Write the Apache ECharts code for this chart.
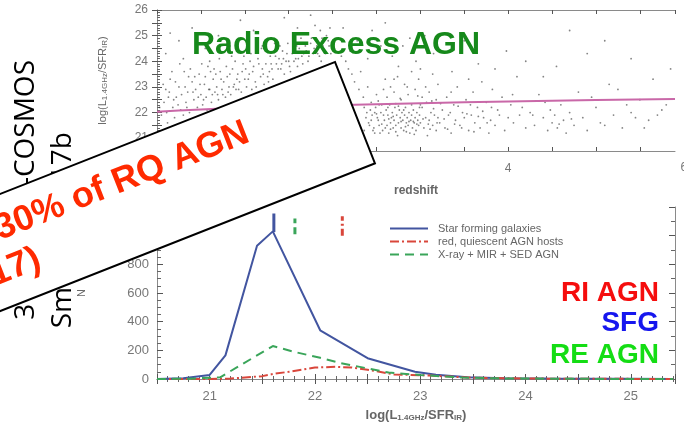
<!DOCTYPE html>
<html>
<head>
<meta charset="utf-8">
<script src="https://cdn.jsdelivr.net/npm/echarts@6/dist/echarts.min.js"></script>
<style>
  html, body { margin: 0; padding: 0; background: #fff; }
  #c { width: 684px; height: 423px; }
</style>
</head>
<body>
<div id="c"></div>
<script>
// ---------- upper panel: radio excess vs redshift ----------
// sources at z < 1
const scatterNear = [
  [0.05,21.9],[0.08,22.4],[0.1,22.9],[0.12,21.6],[0.15,23.3],[0.18,22.2],[0.2,21.8],[0.22,22.6],[0.25,23.0],[0.27,22.1],
  [0.3,21.9],[0.31,23.6],[0.33,22.4],[0.35,22.8],[0.37,22.0],[0.4,23.2],[0.42,22.5],[0.44,22.9],[0.46,22.2],[0.48,23.5],
  [0.5,22.7],[0.52,22.3],[0.54,23.1],[0.56,22.6],[0.58,23.8],[0.6,22.9],[0.62,22.4],[0.64,23.3],[0.66,22.8],[0.68,23.0],
  [0.7,22.5],[0.72,23.6],[0.74,22.9],[0.76,23.2],[0.78,22.6],[0.8,23.4],[0.82,23.0],[0.84,22.7],[0.86,23.7],[0.88,23.1],
  [0.9,22.9],[0.92,23.5],[0.94,23.2],[0.96,22.8],[0.98,23.9],[1.0,23.3],[0.1,24.3],[0.25,24.8],[0.4,25.3],[0.55,24.5],
  [0.7,25.0],[0.85,24.2],[0.95,25.6],[0.3,24.1],[0.6,24.0],[0.15,25.1],[0.2,21.2],[0.4,21.5],[0.6,21.4],[0.8,21.8],
  [0.5,21.0],[0.9,22.0],[0.7,21.6],[0.13,22.6],[0.36,23.4],[0.57,22.1],[0.77,22.2],[0.45,24.4],[0.65,23.7],[0.83,24.6],
  [0.03,22.2],[0.07,23.1],[0.11,22.0],[0.14,22.8],[0.17,23.6],[0.19,22.5],[0.21,23.2],[0.24,22.3],[0.26,23.9],[0.28,22.7],
  [0.32,23.0],[0.34,22.2],[0.38,23.7],[0.41,22.8],[0.43,23.4],[0.47,22.6],[0.49,23.1],[0.51,23.9],[0.53,22.5],[0.55,23.4],
  [0.59,22.9],[0.61,23.6],[0.63,22.7],[0.67,23.5],[0.69,22.7],[0.71,24.1],[0.73,23.3],[0.75,22.7],[0.79,23.8],[0.81,22.8],
  [0.83,23.5],[0.87,23.0],[0.89,24.0],[0.91,23.3],[0.93,22.9],[0.97,23.6],[0.99,24.2]
];
// sources at 1 < z < 2
const scatterMid = [
  [1.02,23.0],[1.05,23.5],[1.08,22.9],[1.1,23.8],[1.12,23.2],[1.15,24.1],[1.18,23.4],[1.2,23.7],[1.22,23.1],[1.25,24.4],
  [1.28,23.6],[1.3,23.9],[1.32,23.3],[1.35,24.2],[1.38,23.7],[1.4,24.6],[1.42,23.9],[1.45,23.5],[1.48,24.3],[1.5,24.0],
  [1.52,23.6],[1.55,24.8],[1.58,24.1],[1.6,23.8],[1.62,24.5],[1.65,24.2],[1.68,25.1],[1.7,24.4],[1.72,24.0],[1.75,24.7],
  [1.78,24.3],[1.8,25.4],[1.82,24.6],[1.85,24.2],[1.88,24.9],[1.9,24.4],[1.93,25.0],[1.96,24.6],[1.98,24.3],[1.1,25.2],
  [1.3,24.9],[1.45,25.7],[1.6,25.3],[1.75,25.8],[1.2,24.6],[1.2,22.0],[1.4,21.7],[1.5,22.3],[1.6,21.9],[1.8,22.1],
  [1.3,21.5],[1.7,22.6],[1.9,21.8],[1.1,21.9],[1.5,22.8],[1.06,24.0],[1.27,23.2],[1.44,24.1],[1.66,23.9],[1.87,24.0],
  [1.01,23.7],[1.04,23.3],[1.07,24.3],[1.09,23.6],[1.13,23.0],[1.16,23.9],[1.19,24.5],[1.21,23.5],[1.24,23.9],[1.26,23.4],
  [1.29,24.2],[1.31,23.7],[1.34,24.7],[1.36,23.9],[1.39,24.1],[1.41,23.7],[1.43,24.4],[1.47,24.0],[1.49,24.7],[1.51,23.8],
  [1.54,24.3],[1.56,24.0],[1.59,24.6],[1.61,24.1],[1.64,24.9],[1.67,24.3],[1.69,24.6],[1.73,24.2],[1.76,24.9],[1.79,24.5],
  [1.83,24.3],[1.86,25.2],[1.89,24.6],[1.92,24.3],[1.95,24.8],[1.97,25.3]
];
// sources at 2 < z < 3.2
const scatterPeak = [
  [2.02,24.5],[2.05,24.9],[2.1,24.2],[2.12,25.3],[2.15,24.0],[2.18,23.7],[2.2,24.4],[2.22,23.5],[2.25,23.2],[2.28,24.8],
  [2.3,22.9],[2.32,23.6],[2.35,22.6],[2.36,22.2],[2.38,21.8],[2.4,23.0],[2.42,21.5],[2.44,22.4],[2.46,21.3],[2.48,22.0],
  [2.5,22.7],[2.52,21.7],[2.54,21.2],[2.56,22.3],[2.58,21.9],[2.6,23.3],[2.4,24.1],[2.55,24.6],[2.45,25.2],
  [2.41,21.6],[2.43,22.1],[2.45,21.9],[2.47,21.4],[2.49,22.2],[2.51,21.8],[2.53,21.5],[2.55,22.0],[2.57,21.3],[2.59,21.7],
  [2.61,22.1],[2.62,21.5],[2.63,21.9],[2.64,21.2],[2.65,22.3],[2.66,21.6],[2.67,21.8],[2.68,22.0],[2.69,21.4],[2.7,21.7],
  [2.71,22.2],[2.72,21.5],[2.73,21.9],[2.74,21.1],[2.75,21.6],[2.76,22.1],[2.77,21.8],[2.78,21.4],[2.79,22.0],[2.8,21.7],
  [2.81,21.3],[2.82,21.9],[2.83,22.2],[2.84,21.6],[2.85,21.8],[2.86,21.5],[2.87,22.0],[2.88,21.2],[2.89,21.7],[2.9,21.9],
  [2.91,21.4],[2.92,22.1],[2.93,21.6],[2.94,21.8],[2.95,21.3],[2.96,22.0],[2.97,21.7],[2.98,21.5],[2.99,21.9],[3.0,21.6],
  [3.02,22.2],[3.04,21.4],[3.06,21.8],[3.08,21.1],[3.1,21.7],[3.12,22.0],[3.14,21.5],[3.16,21.9],[3.18,21.3],[3.2,21.8],
  [2.62,22.6],[2.66,23.0],[2.7,22.8],[2.74,23.4],[2.78,22.5],[2.82,23.1],[2.86,22.7],[2.9,23.6],[2.94,22.9],[2.98,23.3],
  [3.02,22.6],[3.06,23.0],[3.1,22.8],[3.14,23.5],[3.18,22.5],[2.68,24.2],[2.8,24.6],[2.95,24.0],[3.05,25.0],[3.15,24.3],
  [2.6,25.5],[2.75,23.8],[2.88,24.9],[2.64,21.75],[2.72,22.35],[2.83,21.45],[2.92,21.65],[3.0,22.3],[3.09,21.55],[2.52,22.45],
  [2.36,21.3],[2.39,22.0],[2.44,21.7],[2.48,21.2],[2.5,21.95],[2.53,22.3],[2.56,21.55],[2.6,21.4],[2.63,22.2],[2.66,21.35],
  [2.69,21.85],[2.72,21.25],[2.75,22.25],[2.78,21.65],[2.81,22.1],[2.84,21.25],[2.87,21.65],[2.9,22.3],[2.93,21.15],[2.96,21.55],
  [2.99,22.2],[3.03,21.75],[3.07,22.4],[3.11,21.35],[3.15,22.15],[3.19,21.6],[2.58,22.9],[2.7,23.3],[2.85,23.0],[3.0,23.7],
  [2.77,22.55],[2.97,22.65],[3.13,22.45]
];
// sources at z > 3.2
const scatterFar = [
  [3.22,21.6],[3.25,22.1],[3.28,21.4],[3.3,22.6],[3.32,21.9],[3.35,21.2],[3.38,22.3],[3.4,21.7],[3.42,23.0],[3.45,21.5],
  [3.48,22.0],[3.5,21.8],[3.52,22.5],[3.55,21.3],[3.58,21.9],[3.6,22.8],[3.62,21.6],[3.65,22.2],[3.68,21.4],[3.7,23.2],
  [3.72,21.8],[3.75,22.4],[3.78,21.2],[3.8,21.7],[3.82,22.9],[3.85,21.5],[3.88,22.1],[3.9,21.9],[3.93,22.6],[3.96,21.3],
  [4.0,21.8],[4.03,22.3],[4.06,21.6],[4.1,23.4],[4.13,21.9],[4.16,22.2],[4.2,21.4],[3.36,23.6],[3.66,23.9],[3.98,24.4],
  [3.5,24.8],[3.85,23.7],[4.25,22.0],[4.3,21.5],[4.35,22.7],[4.4,21.8],[4.45,21.3],[4.48,22.1],[4.5,21.6],[4.53,21.9],
  [4.56,21.4],[4.6,22.3],[4.63,21.7],[4.66,21.2],[4.7,22.0],[4.75,21.5],[4.8,22.8],[4.85,21.8],[4.9,21.3],[5.0,22.2],
  [5.05,21.6],[5.15,23.1],[5.2,21.9],[5.3,21.4],[5.4,22.0],[5.45,21.8],[5.5,22.5],[5.6,21.7],[5.7,21.9],[5.8,22.3],
  [4.4,23.4],[4.9,24.3],[5.25,22.9],[4.55,23.8],[5.65,23.3],[4.2,24.0],
  [3.23,22.35],[3.27,21.75],[3.31,21.35],[3.34,22.0],[3.39,21.55],[3.43,22.25],[3.47,21.4],[3.53,21.95],[3.57,22.3],[3.61,21.25],
  [3.66,21.85],[3.71,22.05],[3.76,21.6],[3.81,22.2],[3.2,23.1],[3.35,22.8],[3.55,23.3],[4.05,22.7],[4.28,21.9],[4.42,22.4],
  [4.58,21.55],[4.72,21.75],[4.95,22.6],[5.1,21.5],[5.35,22.3],[5.55,21.4],[5.75,22.1],[5.85,23.7],[5.1,24.8],[4.7,25.2],
  [5.4,24.1]
];
// mean radio excess threshold against redshift
const trendZ = [0, 0.5, 1, 2, 3, 4, 5, 5.9];
const trendY = [22.03, 22.12, 22.18, 22.28, 22.36, 22.43, 22.49, 22.53];

// ---------- lower panel: distributions ----------
const sfgX = [20.5, 20.75, 21.0, 21.15, 21.45, 21.6, 22.05, 22.5, 22.95, 23.15, 23.45, 23.8, 24.2, 24.6, 25.0, 25.4];
const sfgN = [0, 5, 28, 165, 930, 1030, 340, 145, 50, 30, 12, 5, 3, 2, 1, 0];
const riX = [20.5, 21.0, 21.2, 21.5, 21.6, 21.75, 22.0, 22.2, 22.35, 22.5, 22.75, 23.1, 23.45, 24.0, 25.4];
const riN = [0, 0, 3, 20, 35, 50, 80, 85, 80, 65, 32, 24, 10, 3, 0];
const reX = [20.5, 20.8, 21.1, 21.6, 21.8, 22.05, 22.25, 22.7, 23.0, 23.4, 23.8, 24.5, 25.4];
const reN = [0, 2, 12, 230, 190, 148, 110, 45, 28, 10, 4, 1, 0];
// median markers: position and vertical extent
const sfgMedian = [21.61, 1025, 1155];
const reMedian = [21.81, 1010, 1120];
const riMedian = [22.26, 1000, 1135];

const names = ['Star forming galaxies', 'red, quiescent AGN hosts', 'X-ray + MIR + SED AGN'];
const colors = ['#4255a0', '#d9463b', '#3aa55a'];

const zip = (xs, ys) => xs.map((x, i) => [x, ys[i]]);
const marker = m => [[m[0], m[1]], [m[0], m[2]]];

const chart = echarts.init(document.getElementById('c'));

const tickFont = { color: '#777', fontSize: 12, fontFamily: 'Liberation Sans' };
const axisLine = { show: true, lineStyle: { color: '#8a8a8a', width: 1 } };
const tickLine = { color: '#555', width: 1 };
const minorLine = { color: '#666', width: 1 };
const subRich = {
  s: { fontSize: 8, color: '#666', fontFamily: 'Liberation Sans', padding: [5, 0, 0, 0] }
};

function intLabel(v) { return Math.abs(v - Math.round(v)) < 1e-6 ? String(Math.round(v)) : ''; }
function evenLabel(v) { return Math.abs(v / 2 - Math.round(v / 2)) < 1e-6 ? String(Math.round(v)) : ''; }

const option = {
  animation: false,
  backgroundColor: '#fff',
  grid: [
    { left: 157, top: 10, width: 518, height: 141 },
    { left: 157, top: 207, width: 518, height: 173 }
  ],
  xAxis: [
    { gridIndex: 0, type: 'value', min: 0, max: 5.9, interval: 0.5, position: 'bottom',
      axisLine, splitLine: { show: false },
      axisTick: { inside: true, length: 4, lineStyle: tickLine },
      axisLabel: Object.assign({ margin: 12, formatter: evenLabel, showMaxLabel: false }, tickFont),
      name: 'redshift', nameLocation: 'middle', nameGap: 34,
      nameTextStyle: { color: '#666', fontSize: 12, fontWeight: 'bold', fontFamily: 'Liberation Sans' } },
    { gridIndex: 0, type: 'value', min: 0, max: 5.9, interval: 0.5, position: 'top',
      axisLine, splitLine: { show: false }, axisLabel: { show: false },
      axisTick: { inside: true, length: 4, lineStyle: tickLine } },
    { gridIndex: 1, type: 'value', min: 20.5, max: 25.42, interval: 0.5, position: 'bottom',
      axisLine, splitLine: { show: false },
      axisTick: { inside: true, length: 5, lineStyle: tickLine },
      minorTick: { show: true, splitNumber: 5, length: 3, lineStyle: minorLine },
      axisLabel: { margin: 11, formatter: intLabel, fontSize: 13, color: '#777', fontFamily: 'Liberation Sans' },
      name: 'log(L{s|1.4GHz}/SFR{s|IR})', nameLocation: 'middle', nameGap: 30,
      nameTextStyle: { color: '#666', fontSize: 13, fontWeight: 'bold', fontFamily: 'Liberation Sans', rich: subRich } },
    { gridIndex: 1, type: 'value', min: 20.5, max: 25.42, interval: 0.5, position: 'top',
      axisLine, splitLine: { show: false }, axisLabel: { show: false },
      axisTick: { inside: true, length: 5, lineStyle: tickLine },
      minorTick: { show: true, splitNumber: 5, length: 3, lineStyle: minorLine } }
  ],
  yAxis: [
    { gridIndex: 0, type: 'value', min: 20.5, max: 26, interval: 0.5, position: 'left',
      axisLine, splitLine: { show: false },
      axisTick: { inside: true, length: 5, lineStyle: tickLine },
      minorTick: { show: true, splitNumber: 5, length: 3, lineStyle: minorLine },
      axisLabel: Object.assign({ margin: 9, formatter: intLabel, showMaxLabel: true }, tickFont),
      name: 'log(L{s|1.4GHz}/SFR{s|IR})', nameLocation: 'middle', nameGap: 48,
      nameTextStyle: { color: '#666', fontSize: 11, fontFamily: 'Liberation Sans', rich: subRich } },
    { gridIndex: 0, type: 'value', min: 20.5, max: 26, interval: 0.5, position: 'right',
      axisLine, splitLine: { show: false }, axisLabel: { show: false },
      axisTick: { inside: true, length: 5, lineStyle: tickLine } },
    { gridIndex: 1, type: 'value', min: 0, max: 1200, interval: 200, position: 'left',
      axisLine, splitLine: { show: false },
      axisTick: { inside: true, length: 6, lineStyle: tickLine },
      minorTick: { show: true, splitNumber: 4, length: 4, lineStyle: minorLine },
      axisLabel: { margin: 8, color: '#777', fontSize: 13, fontFamily: 'Liberation Sans' },
      name: 'N', nameLocation: 'middle', nameGap: 70, nameRotate: 90,
      nameTextStyle: { color: '#666', fontSize: 11, fontFamily: 'Liberation Sans' } },
    { gridIndex: 1, type: 'value', min: 0, max: 1200, interval: 200, position: 'right',
      axisLine, splitLine: { show: false }, axisLabel: { show: false },
      axisTick: { inside: true, length: 6, lineStyle: tickLine },
      minorTick: { show: true, splitNumber: 2, length: 4, lineStyle: minorLine } }
  ],
  legend: {
    orient: 'vertical', left: 384, top: 218, itemWidth: 38, itemHeight: 8, itemGap: 2,
    data: names,
    itemStyle: { opacity: 0 },
    textStyle: { color: '#666', fontSize: 11, fontFamily: 'Liberation Sans', lineHeight: 11, padding: [0, 0, 0, 5] }
  },
  series: [
    { type: 'scatter', xAxisIndex: 0, yAxisIndex: 0, symbolSize: 1.8, silent: true,
      itemStyle: { color: 'rgba(35,35,35,0.7)' },
      data: [].concat(scatterNear, scatterMid, scatterPeak, scatterFar) },
    { type: 'line', xAxisIndex: 0, yAxisIndex: 0, symbol: 'none', smooth: true,
      lineStyle: { color: '#c968a8', width: 2 }, data: zip(trendZ, trendY) },
    { name: names[0], type: 'line', xAxisIndex: 2, yAxisIndex: 2, symbol: 'none',
      color: colors[0], lineStyle: { color: colors[0], width: 2 }, data: zip(sfgX, sfgN) },
    { name: names[1], type: 'line', xAxisIndex: 2, yAxisIndex: 2, symbol: 'none',
      color: colors[1], lineStyle: { color: colors[1], width: 2, type: [9, 3, 2, 3] }, data: zip(riX, riN) },
    { name: names[2], type: 'line', xAxisIndex: 2, yAxisIndex: 2, symbol: 'none',
      color: colors[2], lineStyle: { color: colors[2], width: 2, type: [9, 6] }, data: zip(reX, reN) },
    { name: 'sfg median', type: 'line', xAxisIndex: 2, yAxisIndex: 2, symbol: 'none',
      lineStyle: { color: colors[0], width: 3 }, data: marker(sfgMedian) },
    { name: 'ri median', type: 'line', xAxisIndex: 2, yAxisIndex: 2, symbol: 'none',
      lineStyle: { color: colors[1], width: 3, type: [7, 3, 2, 3] }, data: marker(riMedian) },
    { name: 're median', type: 'line', xAxisIndex: 2, yAxisIndex: 2, symbol: 'none',
      lineStyle: { color: colors[2], width: 3, type: [7, 4] }, data: marker(reMedian) }
  ]
};
chart.setOption(option);

// slide annotations drawn over the panels
const theta = 21.5 * Math.PI / 180;
function txt(x, y, text, font, fill, align, vAlign, extra) {
  return Object.assign({
    type: 'text', x, y, z: 100,
    style: { text, font, fill, align, textAlign: align, verticalAlign: vAlign, textVerticalAlign: vAlign }
  }, extra || {});
}
const six = chart.convertToPixel({ xAxisIndex: 0 }, 6);
chart.setOption({
  graphic: [
    txt(six, 168, '6', '12px "Liberation Sans"', '#777', 'center', 'middle', { z: 5 }),
    txt(26, 60, '3 GHz VLA-COSMOS', '28px "Open Sans"', '#000', 'right', 'middle', { rotation: Math.PI / 2, z: 90 }),
    txt(63, 132, 'Smolčić+2017b', '28px "Open Sans"', '#000', 'right', 'middle', { rotation: Math.PI / 2, z: 90 }),
    {
      type: 'text', x: 192, y: 45, z: 95,
      style: { text: 'Radio Excess AGN', font: 'bold 32px "Liberation Sans"', fill: '#16891b',
               align: 'left', textAlign: 'left', verticalAlign: 'middle', textVerticalAlign: 'middle',
               shadowColor: 'rgba(0,0,0,0.25)', shadowBlur: 3, shadowOffsetX: 1, shadowOffsetY: 1 }
    },
    txt(659, 293, 'RI AGN', 'bold 28px "Liberation Sans"', '#f50d0d', 'right', 'middle'),
    txt(659, 323, 'SFG', 'bold 28px "Liberation Sans"', '#1616ee', 'right', 'middle'),
    txt(659, 355, 'RE AGN', 'bold 28px "Liberation Sans"', '#14dd14', 'right', 'middle'),
    {
      type: 'group', x: 335, y: 62, rotation: theta, z: 100,
      children: [
        { type: 'rect', z: 100, shape: { x: -600, y: 0, width: 600, height: 109 },
          style: { fill: '#fff', stroke: '#000', lineWidth: 2 } },
        txt(-107, 33, '~30% of RQ AGN', 'bold 36px "Liberation Sans"', '#ff2a00', 'right', 'middle', { z: 101 }),
        txt(-347, 74, '(Delvecchio+2017)', 'bold 36px "Liberation Sans"', '#ff2a00', 'right', 'middle', { z: 101 })
      ]
    }
  ]
});
</script>
</body>
</html>
